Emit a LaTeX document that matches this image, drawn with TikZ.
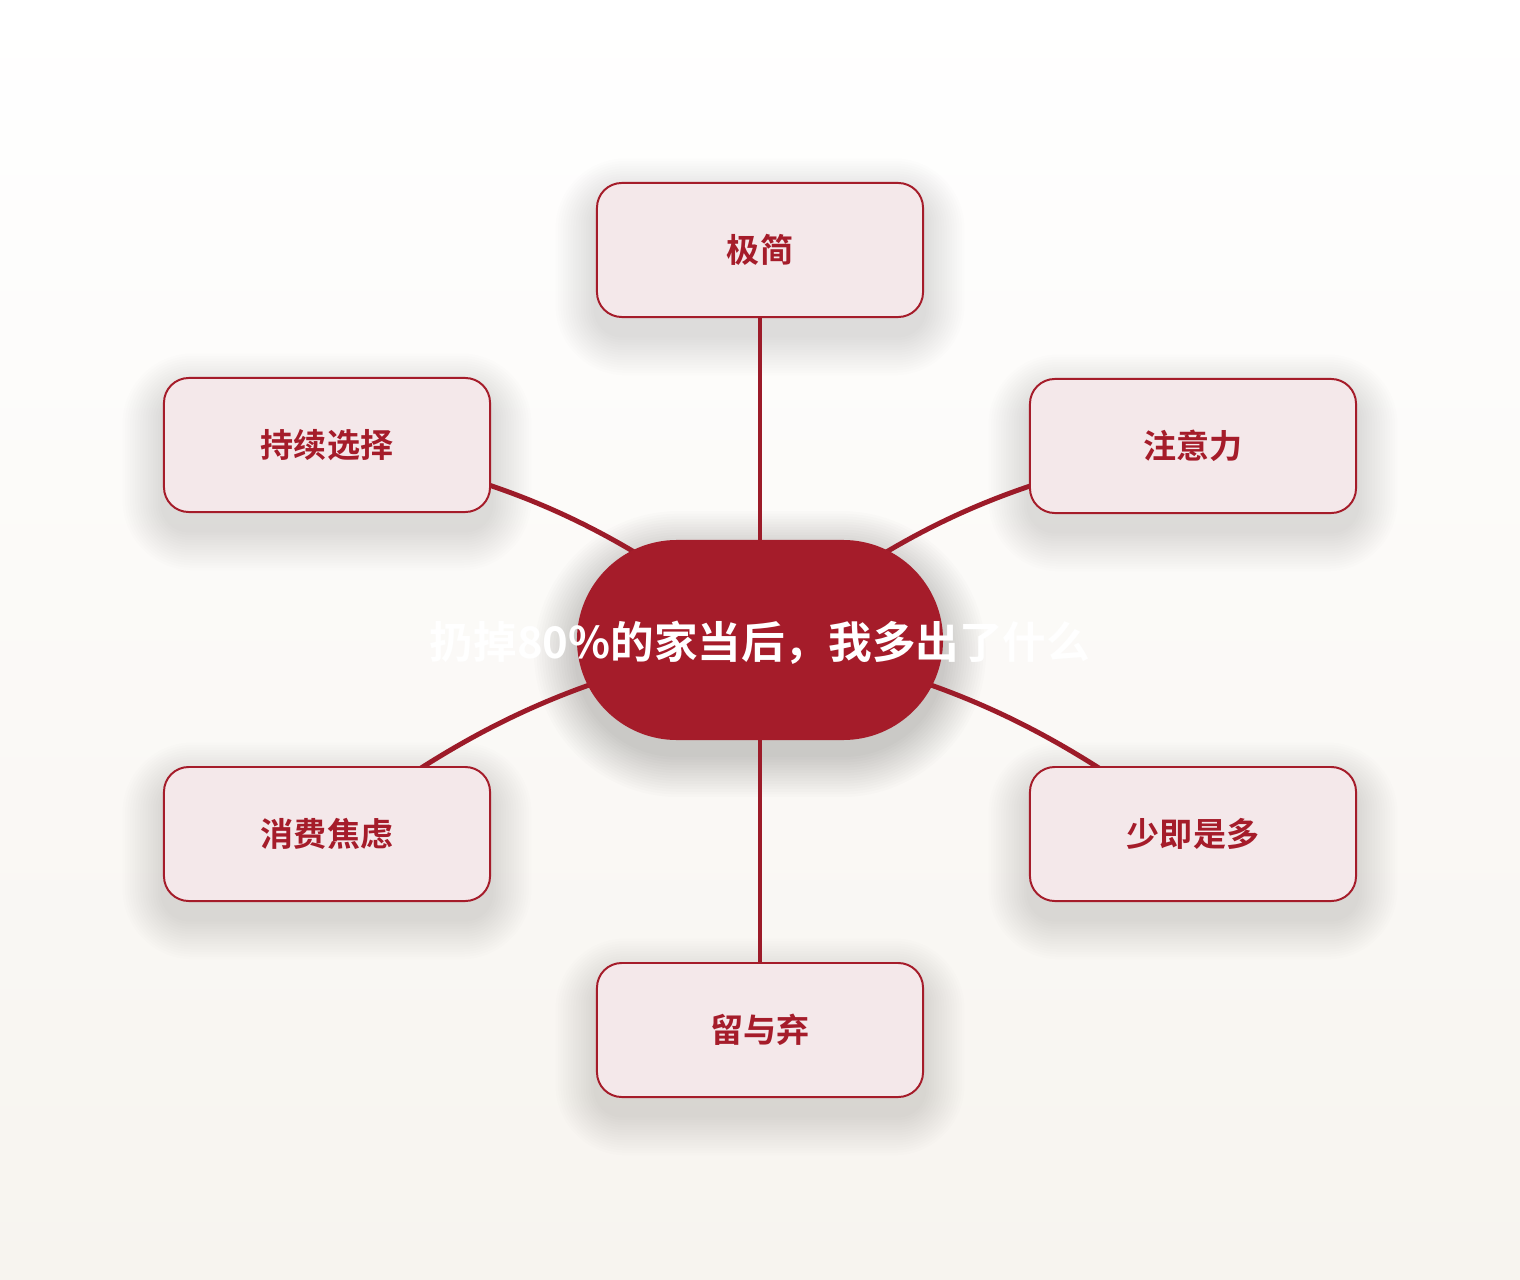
\documentclass[tikz,border=0pt]{standalone}
\usepackage{fontspec}
\setmainfont{Noto Sans CJK SC}[BoldFont={Noto Sans CJK SC Bold}]
\definecolor{crimson}{HTML}{A51C2A}
\definecolor{wire}{HTML}{9C1B29}
\definecolor{rose}{HTML}{F4E8EA}
\definecolor{paper}{HTML}{F7F4EF}
\pgfdeclarelayer{back}
\pgfdeclarelayer{shadow}
\pgfdeclarelayer{links}
\pgfsetlayers{back,shadow,links,main}

\begin{document}
\begin{tikzpicture}[x=0.025cm, y=-0.025cm,
    leaf/.style={draw=crimson, line width=1.4pt, fill=rose, rounded corners=0.62cm,
      minimum width=8.15cm, minimum height=3.35cm, text=crimson,
      font=\bfseries\fontsize{23.5}{28}\selectfont},
    hub/.style={fill=crimson, rounded corners=2.5cm, minimum width=9.15cm, minimum height=5cm},
    haze/.style={black, opacity=0.0075},
    link/.style={draw=wire, line width=3.5pt}]

    % background
    \begin{pgfonlayer}{back}
    \shade[top color=white, bottom color=paper] (0,0) rectangle (1520,1280);
    \end{pgfonlayer}

    \node (hub) at (760,640) [hub] {};
    \node (title) at (760,643) [text=white, font=\bfseries\fontsize{31}{36}\selectfont] {扔掉80\%的家当后，我多出了什么};

    \node (n1) at (760,250) [leaf] {极简};
    \node (n2) at (1193,446) [leaf] {注意力};
    \node (n3) at (1193,834) [leaf] {少即是多};
    \node (n4) at (760,1030) [leaf] {留与弃};
    \node (n5) at (327,834) [leaf] {消费焦虑};
    \node (n6) at (327,445) [leaf] {持续选择};

    % soft shadows
    \begin{pgfonlayer}{shadow}
    \foreach \n in {n1,n2,n3,n4,n5,n6}
      \foreach \k in {1,...,16}
        \fill[haze, rounded corners=18pt+\k*2pt]
          ([xshift=-\k*1.8pt, yshift=-12pt+\k*1.8pt]\n.north west)
          rectangle ([xshift=\k*1.8pt, yshift=-12pt-\k*1.8pt]\n.south east);
    \foreach \k in {1,...,16}
      \fill[haze, opacity=0.01, rounded corners=71pt+\k*2pt]
        ([xshift=-\k*1.9pt, yshift=-10pt+\k*1.9pt]hub.north west)
        rectangle ([xshift=\k*1.9pt, yshift=-10pt-\k*1.9pt]hub.south east);
    \end{pgfonlayer}

    % connectors
    \begin{pgfonlayer}{links}
    \draw[link] (hub.center) -- (n1.center);
    \draw[link] (hub.center) to[bend left=14] (n2.center);
    \draw[link] (hub.center) to[bend left=13] (n3.center);
    \draw[link] (hub.center) -- (n4.center);
    \draw[link] (hub.center) to[bend right=13] (n5.center);
    \draw[link] (hub.center) to[bend right=14] (n6.center);
    \end{pgfonlayer}
\end{tikzpicture}
\end{document}
